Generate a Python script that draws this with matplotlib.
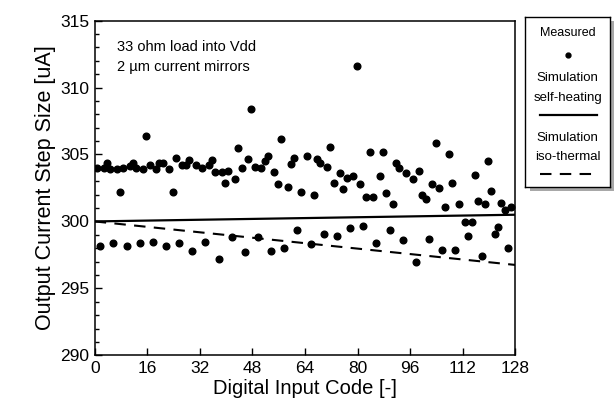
import matplotlib
matplotlib.use("Agg")
import matplotlib.pyplot as plt
import numpy as np
from matplotlib.lines import Line2D
from matplotlib.patches import Rectangle

plt.rcParams['font.family'] = ['Liberation Sans', 'DejaVu Sans']

# measured step size per input code (nan = no point shown)
codes = np.arange(128)
measured = [
    304.00, 298.18, 304.00, 304.40, 303.88, 298.38, 303.88, 302.19,
    304.00, 298.18, 304.13, 304.33, 304.00, 298.38, 303.88, 306.39,
    304.18, 298.48, 303.88, 304.40, 304.33, 298.18, 303.88, 302.19,
    304.70, 298.38, 304.18, 304.18, 304.57, 297.76, 304.18, np.nan,
    304.00, 298.48, 304.18, 304.57, 303.68, 297.16, 303.68, 302.88,
    303.80, 298.85, 303.18, 305.49, 304.00, 297.68, 304.67, 308.38,
    304.10, 298.85, 304.00, 304.50, 304.90, 297.76, 303.70, 302.77,
    306.19, 297.98, 302.58, 304.30, 304.77, 299.38, 302.19, np.nan,
    304.88, 298.28, 301.99, 304.68, 304.39, 299.08, 304.09, 305.59,
    302.88, 298.88, 303.59, 302.39, 303.28, 299.48, 303.38, 311.60,
    302.78, 299.67, 301.79, 305.20, 301.79, 298.38, 303.36, 305.20,
    302.09, 299.38, 301.27, 304.40, 304.00, 298.58, 303.60, np.nan,
    303.18, 296.99, 303.80, 301.96, 301.66, 298.68, 302.76, 305.89,
    302.49, 297.88, 301.09, 305.02, 302.88, 297.86, 301.27, np.nan,
    299.97, 298.88, 299.97, 303.48, 301.49, 297.39, 301.27, 304.50,
    302.29, 299.08, 299.57, 301.37, 300.87, 297.98, 301.07, np.nan,
]

# simulations (straight lines)
sim_codes = [0, 128]
self_heating = [300.0, 300.5]
iso_thermal = [300.0, 296.75]

note_lines = ["33 ohm load into Vdd", "2 \u00b5m current mirrors"]

fig = plt.figure(figsize=(6.15, 4.2), dpi=100)
ax = fig.add_axes([0.154, 0.154, 0.684, 0.797])

ax.plot(codes + 0.7, measured, 'o', color='black', ms=4.8, mec='black', ls='none')
ax.plot(sim_codes, self_heating, '-', color='black', lw=1.6)
ax.plot(sim_codes, iso_thermal, '--', color='black', lw=1.5, dashes=(5.5, 4))

ax.set_xlim(0, 128)
ax.set_ylim(290, 315)
ax.set_xticks(np.arange(0, 129, 16))
ax.set_yticks(np.arange(290, 316, 5))
ax.set_yticks(np.arange(290, 316, 1), minor=True)
ax.tick_params(axis='both', which='major', direction='in', length=5, width=1,
               labelsize=12.5, pad=4, top=False, right=False)
ax.tick_params(axis='y', which='minor', direction='in', length=3, width=1, right=False)
for s in ax.spines.values():
    s.set_linewidth(1.1)

ax.set_xlabel("Digital Input Code [-]", fontsize=14.5, labelpad=2)
ax.set_ylabel("Output Current Step Size [uA]", fontsize=15.5, labelpad=3)

ax.text(6.9, 313.05, note_lines[0], fontsize=10.5, ha='left', va='center')
ax.text(6.9, 311.55, note_lines[1], fontsize=10.5, ha='left', va='center')

# legend box drawn by hand, with a shadow
bx, by, bw, bh = 0.854, 0.555, 0.138, 0.405
fig.patches.append(Rectangle((bx + 0.007, by - 0.010), bw, bh, transform=fig.transFigure,
                             facecolor='#a8a8a8', edgecolor='none', zorder=1))
lax = fig.add_axes([bx, by, bw, bh], zorder=2)
lax.set_xlim(0, 1)
lax.set_ylim(0, 1)
lax.set_xticks([])
lax.set_yticks([])
for s in lax.spines.values():
    s.set_linewidth(1.0)

lax.text(0.5, 0.906, "Measured", fontsize=9, ha='center', va='center')
lax.plot([0.5], [0.776], 'o', color='black', ms=3.5)
lax.text(0.5, 0.639, "Simulation", fontsize=9.5, ha='center', va='center')
lax.text(0.5, 0.522, "self-heating", fontsize=9.5, ha='center', va='center')
lax.add_line(Line2D([0.176, 0.844], [0.424, 0.424], color='black', lw=1.6))
lax.text(0.5, 0.286, "Simulation", fontsize=9.5, ha='center', va='center')
lax.text(0.5, 0.178, "iso-thermal", fontsize=9.5, ha='center', va='center')
lax.add_line(Line2D([0.176, 0.844], [0.075, 0.075], color='black', lw=1.5,
                    ls='--', dashes=(5.5, 4)))

fig.savefig("out.png", dpi=100)
